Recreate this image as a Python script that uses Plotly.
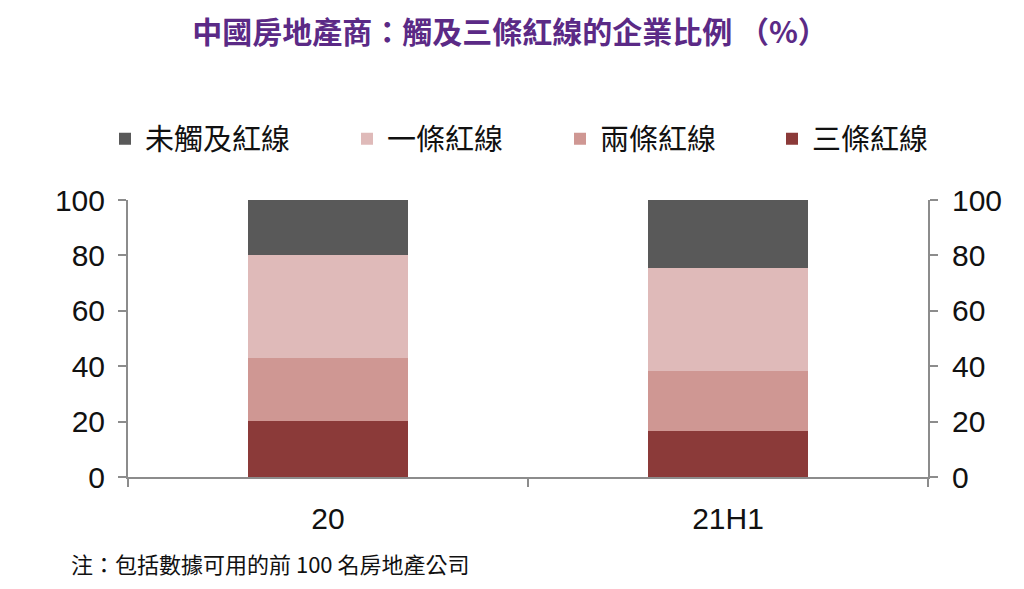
import plotly.graph_objects as go

# periods on the x axis
periods = ["20", "21H1"]

# share of developers (%), bottom to top of each stack
three_lines = [20.3, 16.5]
two_lines = [22.8, 21.7]
one_line = [37.2, 37.4]
no_line = [19.7, 24.4]

y_ticks = [0, 20, 40, 60, 80, 100]

# name, values, colour, legend id (stacked bottom to top)
series = [
    ("三條紅線", three_lines, "#8B3A39", "legend4"),
    ("兩條紅線", two_lines, "#CF9793", "legend3"),
    ("一條紅線", one_line, "#DFBAB9", "legend2"),
    ("未觸及紅線", no_line, "#595959", "legend"),
]

FONT = "Liberation Sans, Arial, Noto Sans CJK TC, sans-serif"
CJK = "Noto Sans CJK TC, Liberation Sans, sans-serif"
AXIS = "#8C8C8C"

# page body adds an 8px margin, so the figure is a bit smaller
W, H = 1008, 573

fig = go.Figure()

for name, vals, color, leg in series:
    fig.add_trace(
        go.Bar(
            x=periods,
            y=vals,
            name=name,
            marker=dict(color=color, line=dict(width=0)),
            width=0.4,
            legend=leg,
        )
    )

# invisible trace so the right-hand axis gets drawn
fig.add_trace(
    go.Scatter(
        x=periods,
        y=[None, None],
        yaxis="y2",
        showlegend=False,
        hoverinfo="skip",
    )
)

axis_style = dict(
    showline=True,
    linecolor=AXIS,
    linewidth=2,
    ticks="outside",
    ticklen=8,
    tickwidth=2,
    tickcolor=AXIS,
    showgrid=False,
    zeroline=False,
    tickfont=dict(size=30),
)


def legend_at(px):
    return dict(
        orientation="h",
        xref="container",
        yref="container",
        x=px / W,
        xanchor="left",
        y=1 - 131 / H,
        yanchor="middle",
        font=dict(family=CJK, size=29, color="#111111"),
        itemwidth=30,
        bgcolor="rgba(0,0,0,0)",
    )


fig.update_layout(
    width=W,
    height=H,
    barmode="stack",
    plot_bgcolor="white",
    paper_bgcolor="white",
    margin=dict(l=120, r=88, t=192, b=104, autoexpand=False),
    font=dict(family=FONT, size=30, color="#111111"),
    title=dict(
        text="<b>中國房地產商：觸及三條紅線的企業比例 （%）</b>",
        font=dict(family=CJK, size=30, color="#5B2A86"),
        x=502 / W,
        xanchor="center",
        xref="container",
        y=1 - 24 / H,
        yanchor="middle",
    ),
    legend=legend_at(97),
    legend2=legend_at(339),
    legend3=legend_at(552),
    legend4=legend_at(764),
    xaxis=dict(
        type="category",
        tickson="boundaries",
        ticklabelstandoff=14,
        **axis_style,
    ),
    yaxis=dict(
        range=[0, 100],
        tickvals=y_ticks,
        ticklabelstandoff=7,
        **axis_style,
    ),
    yaxis2=dict(
        range=[0, 100],
        tickvals=y_ticks,
        overlaying="y",
        side="right",
        ticklabelstandoff=8,
        **axis_style,
    ),
    annotations=[
        dict(
            text="注：包括數據可用的前 100 名房地產公司",
            xref="paper",
            yref="paper",
            x=(62 - 120) / 800,
            xanchor="left",
            y=-(H - 1 - 469) / 277,
            yanchor="bottom",
            borderpad=0,
            showarrow=False,
            font=dict(family=CJK, size=22, color="#111111"),
        )
    ],
)

fig.write_html("out.html")
